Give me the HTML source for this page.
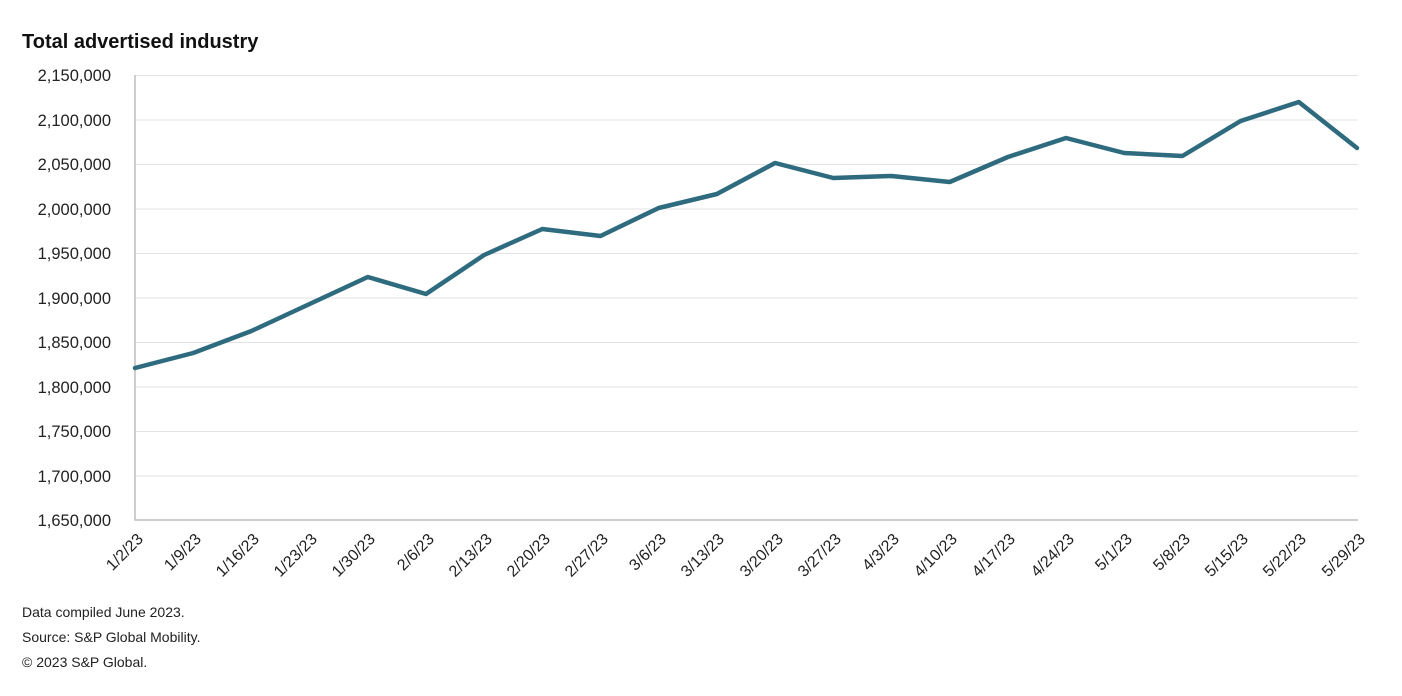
<!DOCTYPE html>
<html><head><meta charset="utf-8"><style>
html,body{margin:0;padding:0;background:#fff;}
svg{display:block;font-family:"Liberation Sans",Arial,sans-serif;}
</style></head><body>
<svg width="1402" height="696" viewBox="0 0 1402 696" xmlns="http://www.w3.org/2000/svg">
<text x="22" y="48" font-size="20" font-weight="bold" fill="#111">Total advertised industry</text>
<g stroke="#e3e3e3" stroke-width="1">
<line x1="135" y1="75.5" x2="1358" y2="75.5"/>
<line x1="135" y1="120" x2="1358" y2="120"/>
<line x1="135" y1="164.5" x2="1358" y2="164.5"/>
<line x1="135" y1="209" x2="1358" y2="209"/>
<line x1="135" y1="253.5" x2="1358" y2="253.5"/>
<line x1="135" y1="298" x2="1358" y2="298"/>
<line x1="135" y1="342.5" x2="1358" y2="342.5"/>
<line x1="135" y1="387" x2="1358" y2="387"/>
<line x1="135" y1="431.5" x2="1358" y2="431.5"/>
<line x1="135" y1="476" x2="1358" y2="476"/>
</g>
<polyline points="135,75 135,520 1358,520" fill="none" stroke="#bdbdbd" stroke-width="1.5"/>
<g font-size="16.5" fill="#222" text-anchor="end">
<text x="111" y="81">2,150,000</text>
<text x="111" y="126">2,100,000</text>
<text x="111" y="170">2,050,000</text>
<text x="111" y="215">2,000,000</text>
<text x="111" y="259">1,950,000</text>
<text x="111" y="304">1,900,000</text>
<text x="111" y="348">1,850,000</text>
<text x="111" y="393">1,800,000</text>
<text x="111" y="437">1,750,000</text>
<text x="111" y="482">1,700,000</text>
<text x="111" y="526">1,650,000</text>
</g>
<polyline fill="none" stroke="#2e6b7e" stroke-width="4.5" stroke-linejoin="round" stroke-linecap="round"
points="135,368 193.2,353 251.4,331 309.6,304 367.8,277 426,294 484.1,255 542.3,229 600.5,236 658.7,208 716.9,194 775.1,163 833.3,178 891.5,176 949.7,182 1007.9,157 1066,138 1124.2,153 1182.4,156 1240.6,121 1298.8,102 1357,148"/>
<g font-size="16" fill="#222" text-anchor="end">
<text transform="translate(144,540) rotate(-45)">1/2/23</text>
<text transform="translate(202,540) rotate(-45)">1/9/23</text>
<text transform="translate(260,540) rotate(-45)">1/16/23</text>
<text transform="translate(318,540) rotate(-45)">1/23/23</text>
<text transform="translate(376,540) rotate(-45)">1/30/23</text>
<text transform="translate(435,540) rotate(-45)">2/6/23</text>
<text transform="translate(493,540) rotate(-45)">2/13/23</text>
<text transform="translate(551,540) rotate(-45)">2/20/23</text>
<text transform="translate(609,540) rotate(-45)">2/27/23</text>
<text transform="translate(667,540) rotate(-45)">3/6/23</text>
<text transform="translate(725,540) rotate(-45)">3/13/23</text>
<text transform="translate(784,540) rotate(-45)">3/20/23</text>
<text transform="translate(842,540) rotate(-45)">3/27/23</text>
<text transform="translate(900,540) rotate(-45)">4/3/23</text>
<text transform="translate(958,540) rotate(-45)">4/10/23</text>
<text transform="translate(1016,540) rotate(-45)">4/17/23</text>
<text transform="translate(1075,540) rotate(-45)">4/24/23</text>
<text transform="translate(1133,540) rotate(-45)">5/1/23</text>
<text transform="translate(1191,540) rotate(-45)">5/8/23</text>
<text transform="translate(1249,540) rotate(-45)">5/15/23</text>
<text transform="translate(1307,540) rotate(-45)">5/22/23</text>
<text transform="translate(1366,540) rotate(-45)">5/29/23</text>
</g>
<g font-size="14" fill="#222">
<text x="22" y="617">Data compiled June 2023.</text>
<text x="22" y="642">Source: S&amp;P Global Mobility.</text>
<text x="22" y="667">© 2023 S&amp;P Global.</text>
</g>
</svg>
</body></html>
